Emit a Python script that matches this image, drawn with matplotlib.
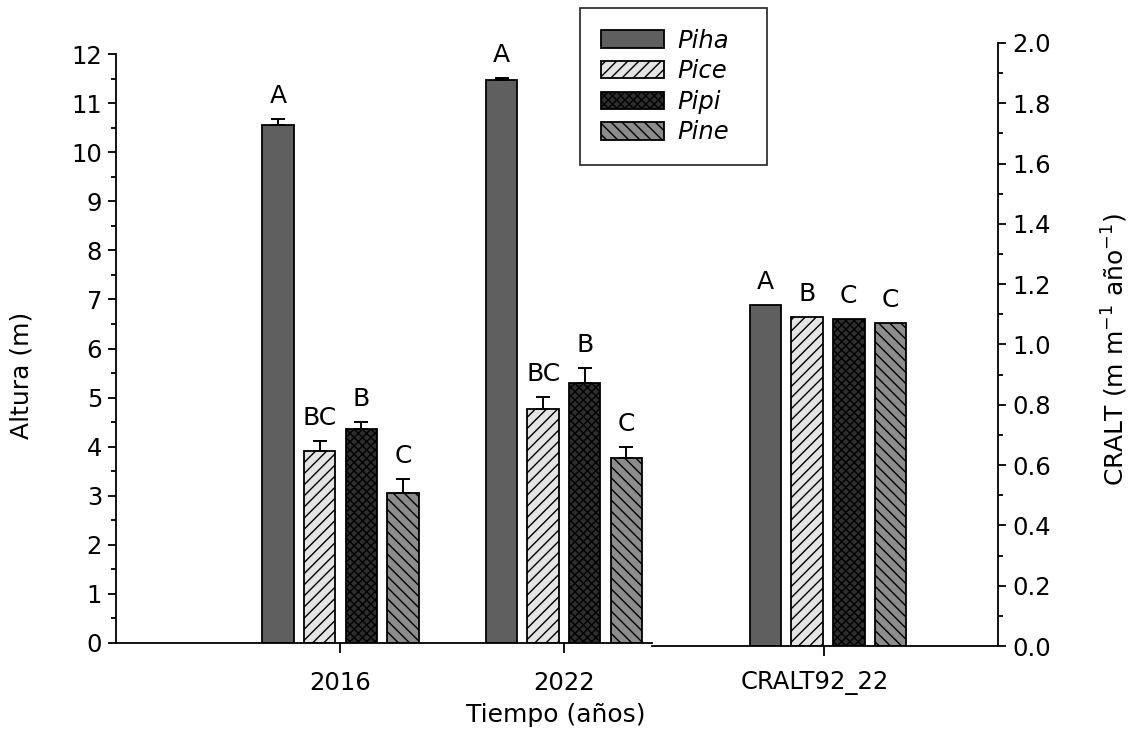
import matplotlib
matplotlib.use("Agg")
import matplotlib.pyplot as plt
import matplotlib.transforms as mtransforms
from matplotlib.ticker import MultipleLocator, FormatStrFormatter
import numpy as np

plt.rcParams['font.family'] = ['DejaVu Sans']
plt.rcParams['hatch.linewidth'] = 1.0

# --- data -------------------------------------------------------------
species = ["Piha", "Pice", "Pipi", "Pine"]
years = ["2016", "2022"]
rate_label = "CRALT92_22"

height_2016 = [10.55, 3.91, 4.36, 3.05]
err_2016 = [0.13, 0.20, 0.15, 0.29]
height_2022 = [11.47, 4.77, 5.30, 3.77]
err_2022 = [0.04, 0.24, 0.30, 0.22]
cralt = [1.131, 1.092, 1.084, 1.072]
err_cralt = [0.0, 0.0, 0.0, 0.0]

letters_2016 = ["A", "BC", "B", "C"]
letters_2022 = ["A", "BC", "B", "C"]
letters_cralt = ["A", "B", "C", "C"]

# --- styles -----------------------------------------------------------
fills = ["#5f5f5f", "#e4e4e4", "#2e2e2e", "#8c8c8c"]
hatches = [None, "///", "xxxx", "\\\\\\"]

W, H = 1133, 751
fig = plt.figure(figsize=(W / 100, H / 100), dpi=100)

axL = fig.add_axes([116 / W, 1 - 643 / H, (652 - 116) / W, (643 - 54) / H])
axR = fig.add_axes([652 / W, 1 - 646 / H, (998 - 652) / W, (646 - 43) / H])
axR.set_facecolor("none")

bar_w = 0.141
step = 0.186
offsets = (np.arange(4) - 1.5) * step
lw = 1.3
txt_size = 18
tick_size = 17.5
label_size = 18


def draw_group(ax, x0, vals, errs, letters):
    handles = []
    for i in range(4):
        x = x0 + offsets[i]
        b = ax.bar(x, vals[i], width=bar_w, color=fills[i], edgecolor="black",
                   linewidth=lw, hatch=hatches[i], zorder=2, label=species[i])
        handles.append(b)
        if errs[i] > 0:
            ax.errorbar(x, vals[i], yerr=[[0], [errs[i]]], fmt="none",
                        ecolor="black", elinewidth=1.4, capsize=5, capthick=1.4,
                        zorder=3)
        ax.annotate(letters[i], (x, vals[i] + errs[i]), xytext=(0, 8),
                    textcoords="offset points", ha="center", va="bottom",
                    fontsize=txt_size)
    return handles


handles = draw_group(axL, 0, height_2016, err_2016, letters_2016)
draw_group(axL, 1, height_2022, err_2022, letters_2022)
draw_group(axR, 0, cralt, err_cralt, letters_cralt)

# --- left axis --------------------------------------------------------
axL.set_xlim(-1.0045, 1.394)
axL.set_ylim(0, 12)
axL.yaxis.set_major_locator(MultipleLocator(1))
axL.yaxis.set_minor_locator(MultipleLocator(0.5))
axL.set_xticks([0, 1])
axL.set_xticklabels(years)
for s in ["top", "right"]:
    axL.spines[s].set_visible(False)
for s in ["left", "bottom"]:
    axL.spines[s].set_linewidth(1.3)
axL.tick_params(axis="y", which="major", direction="out", length=6, width=1.3,
                labelsize=tick_size, pad=4)
axL.tick_params(axis="y", which="minor", direction="out", length=3.5, width=1.3)
axL.tick_params(axis="x", direction="out", length=7, width=1.3,
                labelsize=tick_size, pad=13)
axL.set_ylabel("Altura (m)", fontsize=label_size)
axL.yaxis.set_label_coords((34 - 116) / 536, (643 - 375) / 589)

# --- right axis -------------------------------------------------------
axR.set_xlim(-0.7875, 0.7606)
axR.set_ylim(0, 2.0)
axR.yaxis.tick_right()
axR.yaxis.set_label_position("right")
axR.yaxis.set_major_locator(MultipleLocator(0.2))
axR.yaxis.set_minor_locator(MultipleLocator(0.1))
axR.yaxis.set_major_formatter(FormatStrFormatter("%.1f"))
for s in ["top", "left"]:
    axR.spines[s].set_visible(False)
for s in ["right", "bottom"]:
    axR.spines[s].set_linewidth(1.3)
axR.set_xticks([-0.018])
axR.set_xticklabels([rate_label])
axR.tick_params(axis="y", which="major", direction="out", length=6, width=1.3,
                labelsize=tick_size, pad=4)
axR.tick_params(axis="y", which="minor", direction="out", length=3.5, width=1.3)
axR.tick_params(axis="x", direction="out", length=7, width=1.3,
                labelsize=tick_size, pad=11)
shift = mtransforms.ScaledTranslation(-9 / 100, 0, fig.dpi_scale_trans)
for lab in axR.get_xticklabels():
    lab.set_transform(lab.get_transform() + shift)
axR.set_ylabel("CRALT (m m$^{-1}$ año$^{-1}$)", fontsize=label_size)
axR.yaxis.set_label_coords((1100 - 652) / 346, (646 - 350) / 603)

fig.text(556 / W, 1 - 715 / H, "Tiempo (años)", ha="center", va="center",
         fontsize=label_size)

# legend box spans a fixed frame at the top centre
lx0, lx1, ly0, ly1 = 580 / W, 767 / W, 1 - 177 / H, 1 - 8 / H
leg = axL.legend(handles=handles, labels=species, loc="upper left",
                 bbox_to_anchor=(lx0, ly0, lx1 - lx0, ly1 - ly0),
                 bbox_transform=fig.transFigure, mode="expand",
                 prop={"style": "italic", "size": 17.5}, frameon=True,
                 fancybox=False, edgecolor="black", handlelength=2.6,
                 handleheight=0.72, labelspacing=0.27, borderpad=0.85,
                 handletextpad=0.55, borderaxespad=0)
leg.get_frame().set_linewidth(1.3)

fig.savefig("out.png", dpi=100)
